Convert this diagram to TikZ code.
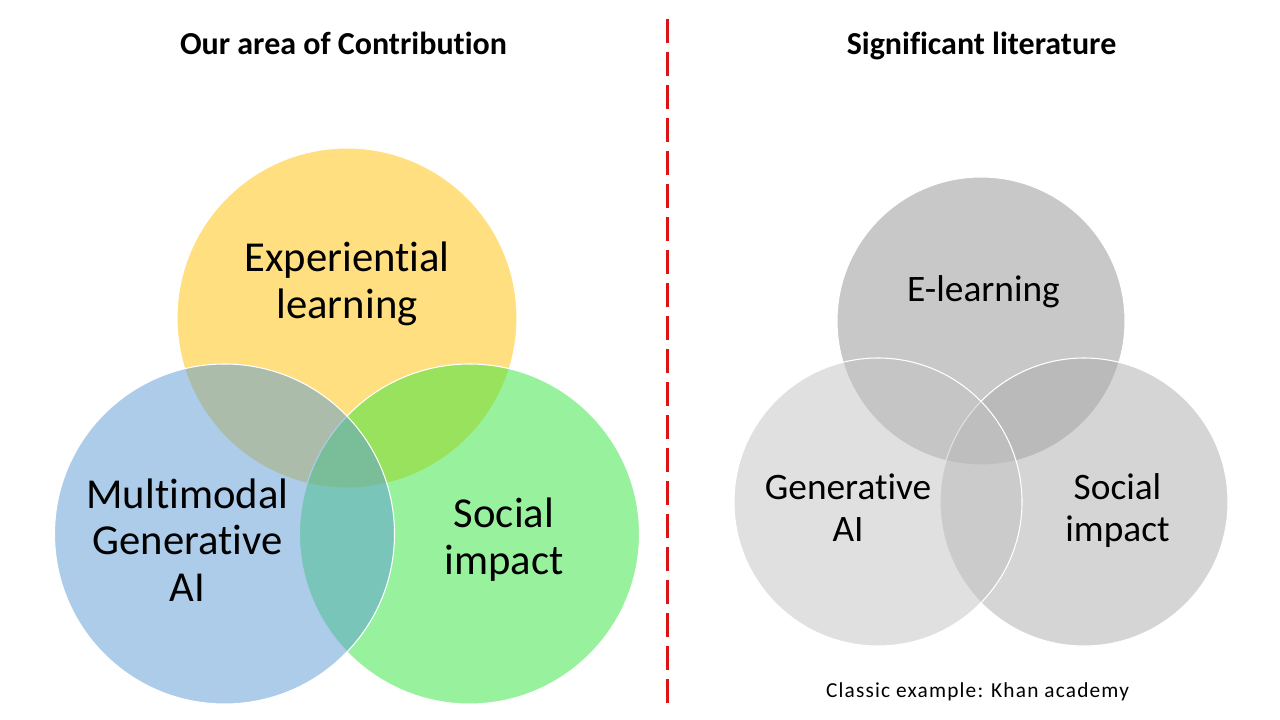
\documentclass[tikz,border=0pt]{standalone}
\usepackage{fontspec}
\setmainfont[Ligatures=NoCommon]{Carlito}
\newfontfamily\spacedfont[Ligatures=NoCommon,LetterSpace=5.5]{Carlito}
\definecolor{vyel}{RGB}{255,192,0}
\definecolor{vgrn}{RGB}{51,229,60}
\definecolor{vblu}{RGB}{91,155,213}
\definecolor{gtop}{RGB}{147,147,147}
\definecolor{grgt}{RGB}{173,173,173}
\definecolor{glft}{RGB}{195,195,195}
\definecolor{divred}{RGB}{220,20,20}
\begin{document}
\begin{tikzpicture}[x=0.75pt,y=-0.75pt,
  venn/.style={circle,inner sep=0pt,outer sep=0pt,draw=white,line width=0.8pt,fill opacity=0.5},
  bigc/.style={venn,minimum size=255pt},
  smallc/.style={venn,minimum size=216pt},
  bigtxt/.style={anchor=base,align=center,inner sep=0pt,font=\fontsize{32}{35}\selectfont},
  smalltxt/.style={anchor=base,align=center,inner sep=0pt,font=\fontsize{28}{31.3}\selectfont},
  title/.style={anchor=base,inner sep=0pt,font=\fontsize{24}{29}\selectfont\bfseries}]
\useasboundingbox (0,0) rectangle (1280,720);
\fill[white] (0,0) rectangle (1280,720);
% left venn
\node[bigc,fill=vyel] (yel) at (347,318) {};
\node[bigc,fill=vgrn] (grn) at (469.5,534) {};
\node[bigc,fill=vblu] (blu) at (224.5,534) {};
% (base anchor = baseline of the last line)
\node[bigtxt] (texp) at (347,318) {Experiential\\learning};
\node[bigtxt] (tmm) at (187.5,601.5) {Multimodal\\Generative\\AI};
\node[bigtxt] (tsoc) at (504,574) {Social\\impact};
% right venn
\node[smallc,fill=gtop] (gt) at (981,321) {};
\node[smallc,fill=grgt] (gr) at (1084,502) {};
\node[smallc,fill=glft] (gl) at (878,502) {};
\node[smalltxt] (tel) at (983.5,301.5) {E-learning};
\node[smalltxt] (tga) at (848,541.5) {Generative\\AI};
\node[smalltxt] (tsi) at (1117.5,541.5) {Social\\impact};
% titles
\node[title] (t1) at (343.5,55) {Our area of Contribution};
\node[title] (t2) at (981.5,55) {Significant literature};
\node[anchor=base,inner sep=0pt,font=\spacedfont\fontsize{16}{19}\selectfont] (cls) at (977.5,697) {Classic example: Khan academy};
% divider
\coordinate (dtop) at (667,19);
\coordinate (dbot) at (667,704);
\draw[divred,line width=2.25pt,dash pattern=on 18pt off 6.75pt] (dtop) -- (dbot);
\end{tikzpicture}
\end{document}
